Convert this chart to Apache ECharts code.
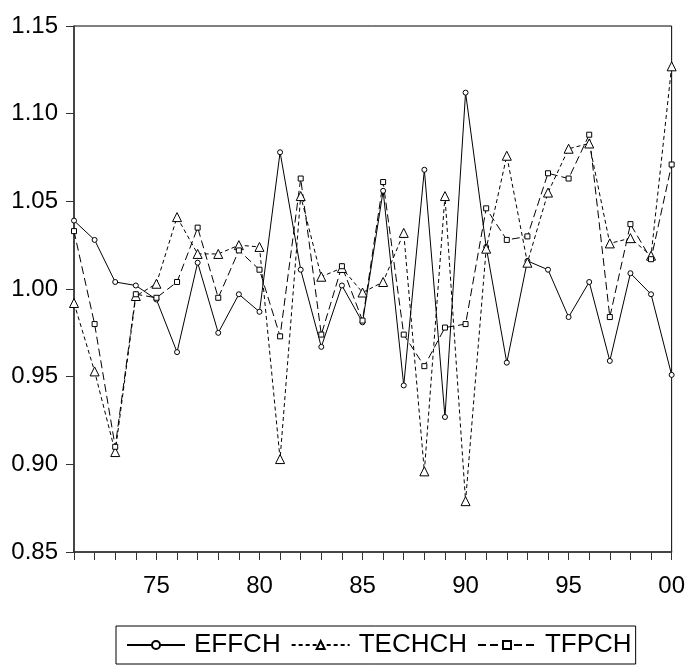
<!DOCTYPE html>
<html>
<head>
<meta charset="utf-8">
<script src="https://cdn.jsdelivr.net/npm/echarts@6/dist/echarts.min.js"></script>
<style>
  html, body { margin: 0; padding: 0; background: #fff; }
  #chart { width: 688px; height: 669px; }
</style>
</head>
<body>
<div id="chart"></div>
<script>
// Años (1971-2000)
const years = ['1971','1972','1973','1974','1975','1976','1977','1978','1979','1980',
  '1981','1982','1983','1984','1985','1986','1987','1988','1989','1990',
  '1991','1992','1993','1994','1995','1996','1997','1998','1999','2000'];

// Series
const effch = [1.039, 1.028, 1.004, 1.002, 0.994, 0.964, 1.015, 0.975, 0.997, 0.987,
  1.078, 1.011, 0.967, 1.002, 0.981, 1.056, 0.945, 1.068, 0.927, 1.112,
  1.024, 0.958, 1.016, 1.011, 0.984, 1.004, 0.959, 1.009, 0.997, 0.951];

const techch = [0.992, 0.953, 0.907, 0.996, 1.003, 1.041, 1.020, 1.020, 1.025, 1.024,
  0.903, 1.053, 1.007, 1.012, 0.998, 1.004, 1.032, 0.896, 1.053, 0.879,
  1.023, 1.076, 1.015, 1.055, 1.080, 1.083, 1.026, 1.029, 1.019, 1.127];

const tfpch = [1.033, 0.980, 0.910, 0.997, 0.995, 1.004, 1.035, 0.995, 1.022, 1.011,
  0.973, 1.063, 0.974, 1.013, 0.982, 1.061, 0.974, 0.956, 0.978, 0.980,
  1.046, 1.028, 1.030, 1.066, 1.063, 1.088, 0.984, 1.037, 1.017, 1.071];

const seriesNames = ['EFFCH', 'TECHCH', 'TFPCH'];
const yTicks = { min: 0.85, max: 1.15, interval: 0.05 };

const fuente = 'Liberation Sans, Arial, sans-serif';

const chart = echarts.init(document.getElementById('chart'), null, { renderer: 'canvas' });

function serie(name, data, symbol, size, dash) {
  return {
    name: name,
    type: 'line',
    data: data,
    symbol: symbol,
    symbolSize: size,
    showAllSymbol: true,
    itemStyle: { color: '#fff', borderColor: '#000', borderWidth: 1 },
    lineStyle: { color: '#000', width: 1, type: dash },
    emphasis: { disabled: true },
    animation: false
  };
}

const option = {
  backgroundColor: '#fff',
  grid: {
    left: 74, right: 16, top: 26, bottom: 117,
    show: true, borderColor: '#000', borderWidth: 1
  },
  legend: {
    data: seriesNames,
    left: 116,
    top: 626,
    orient: 'horizontal',
    borderColor: '#000',
    borderWidth: 1,
    padding: [6, 4, 6, 10],
    itemWidth: 58,
    itemHeight: 10,
    itemGap: 10,
    textStyle: { fontSize: 26, color: '#000', fontFamily: fuente, padding: [0, 0, 0, 4] }
  },
  xAxis: {
    type: 'category',
    data: years,
    boundaryGap: false,
    axisLine: { lineStyle: { color: '#333', width: 1.5 } },
    axisTick: { show: true, interval: 0, length: 8, inside: false, lineStyle: { color: '#333' } },
    axisLabel: {
      interval: function(idx, val) { return parseInt(val, 10) % 5 === 0; },
      formatter: function(val) { return val.slice(2); },
      fontSize: 24, color: '#000', fontFamily: fuente, margin: 22
    },
    splitLine: { show: false }
  },
  yAxis: {
    type: 'value',
    min: yTicks.min,
    max: yTicks.max,
    interval: yTicks.interval,
    axisLine: { show: true, lineStyle: { color: '#333', width: 1.5 } },
    axisTick: { show: true, length: 8, lineStyle: { color: '#333' } },
    axisLabel: {
      formatter: function(v) { return v.toFixed(2); },
      fontSize: 24, color: '#000', fontFamily: fuente, margin: 16
    },
    splitLine: { show: false }
  },
  series: [
    serie('EFFCH', effch, 'circle', 5, 'solid'),
    serie('TECHCH', techch, 'triangle', 9, [4, 3]),
    serie('TFPCH', tfpch, 'rect', 5, [8, 4])
  ]
};

chart.setOption(option);
</script>
</body>
</html>
